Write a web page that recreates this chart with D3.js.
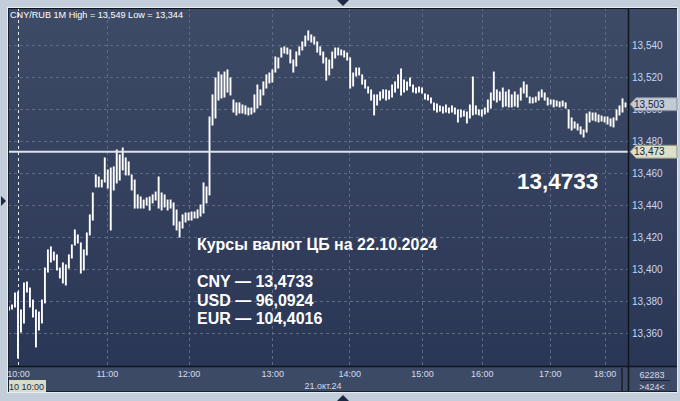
<!DOCTYPE html>
<html><head><meta charset="utf-8">
<script src="https://cdn.jsdelivr.net/npm/d3@7/dist/d3.min.js"></script>
<style>
html,body{margin:0;padding:0;background:#c4cdda;}
svg{display:block;font-family:"Liberation Sans",Arial,sans-serif;}
</style></head>
<body>
<svg id="c" width="680" height="401"></svg>
<script>
// ---- data (1-minute bars, sampled) ----
const highs = [13.3763,13.3775,13.385,13.3856,13.3744,13.3913,13.3919,13.3881,13.3806,13.3744,
13.3731,13.3806,13.4006,13.4119,13.4138,13.4106,13.4088,13.4006,13.4038,13.4025,
13.4088,13.415,13.4244,13.4213,13.4163,13.4119,13.4225,13.4338,13.4475,13.4588,
13.4575,13.4556,13.4694,13.4619,13.4631,13.4638,13.4744,13.4713,13.4756,13.4694,
13.4669,13.4588,13.4556,13.4463,13.445,13.4431,13.4444,13.445,13.4463,13.4481,
13.4575,13.4475,13.4463,13.4431,13.4431,13.4413,13.4369,13.4294,13.4338,13.435,
13.435,13.4356,13.4356,13.4369,13.44,13.4538,13.4513,13.495,13.5088,13.5194,
13.5231,13.5213,13.5231,13.5244,13.5194,13.5056,13.5038,13.5038,13.5025,13.5019,
13.5006,13.5006,13.5088,13.515,13.5119,13.5169,13.5213,13.5225,13.5244,13.5325,
13.5319,13.5381,13.5388,13.5381,13.5369,13.5306,13.5356,13.5388,13.5419,13.5456,
13.5488,13.5463,13.545,13.5419,13.5388,13.5356,13.5319,13.5306,13.5356,13.5381,
13.5381,13.5369,13.5363,13.535,13.5319,13.5225,13.5256,13.5256,13.5213,13.5181,
13.5138,13.5119,13.5088,13.5088,13.5106,13.5119,13.5119,13.5113,13.515,13.5169,
13.5213,13.525,13.5181,13.5169,13.5194,13.515,13.5131,13.5138,13.5131,13.5094,
13.5088,13.5069,13.5038,13.5031,13.5019,13.5013,13.5025,13.5006,13.5019,13.5006,
13.4994,13.4994,13.4988,13.4981,13.5025,13.52,13.5019,13.4994,13.4994,13.5006,
13.5056,13.51,13.5231,13.5119,13.5106,13.5131,13.5106,13.5119,13.5088,13.5106,
13.5088,13.5131,13.5169,13.515,13.5075,13.5069,13.5075,13.5106,13.5119,13.51,
13.5069,13.5056,13.5056,13.505,13.5044,13.505,13.5038,13.4994,13.4944,13.4919,
13.4906,13.4888,13.4869,13.4969,13.4981,13.4975,13.4975,13.4963,13.4956,13.495,
13.495,13.4938,13.4944,13.4994,13.5019,13.5063,13.5038];
const lows = [13.3744,13.375,13.3763,13.3444,13.3606,13.3663,13.3856,13.3763,13.37,13.3513,
13.3619,13.3663,13.3788,13.3981,13.4044,13.4056,13.3994,13.3944,13.3913,13.39,
13.4006,13.4069,13.415,13.4163,13.3975,13.3994,13.4088,13.4213,13.4306,13.4513,
13.4513,13.4513,13.4544,13.4506,13.4244,13.4494,13.4538,13.4556,13.4619,13.4588,
13.4588,13.4494,13.4381,13.4381,13.4381,13.4381,13.44,13.4369,13.4413,13.4431,
13.4381,13.4369,13.4388,13.4369,13.4381,13.4275,13.4244,13.42,13.4256,13.4294,
13.4306,13.4306,13.4319,13.4319,13.4331,13.435,13.4413,13.4463,13.49,13.4944,
13.5056,13.5069,13.5075,13.5106,13.5088,13.4981,13.4963,13.4975,13.4975,13.4969,
13.4963,13.4969,13.4981,13.5006,13.5025,13.5088,13.5131,13.5163,13.5169,13.5231,
13.5256,13.5325,13.535,13.5344,13.5288,13.5231,13.5269,13.5338,13.5369,13.5394,
13.5431,13.5419,13.5406,13.5356,13.5338,13.5288,13.5181,13.5213,13.5256,13.5319,
13.5338,13.5338,13.5325,13.5306,13.5131,13.5144,13.5206,13.5213,13.5156,13.5131,
13.51,13.5056,13.4963,13.5025,13.5056,13.5069,13.5056,13.5063,13.5075,13.5106,
13.5131,13.5088,13.5106,13.5119,13.5144,13.5106,13.51,13.5106,13.51,13.5063,
13.5056,13.5038,13.4994,13.4981,13.4988,13.4975,13.4981,13.4975,13.4981,13.4969,
13.4919,13.495,13.4956,13.4913,13.4944,13.4963,13.4969,13.4963,13.4956,13.4969,
13.4981,13.5006,13.5056,13.5044,13.5056,13.5013,13.5019,13.5013,13.5013,13.5019,
13.5013,13.5056,13.51,13.5075,13.5038,13.5038,13.5044,13.5056,13.5075,13.5056,
13.5025,13.5031,13.5013,13.5019,13.5013,13.5019,13.5006,13.4881,13.4869,13.4881,
13.4869,13.4844,13.4825,13.4856,13.4919,13.4931,13.4925,13.4919,13.4925,13.4919,
13.4906,13.4894,13.4888,13.4931,13.4963,13.4981,13.5013];
const hourIdx = [3, 32.7, 60, 88, 113.7, 138, 158, 180.7, 199];
const hourLabels = ["10:00","11:00","12:00","13:00","14:00","15:00","16:00","17:00","18:00"];
const yTicks = [13.36,13.38,13.40,13.42,13.44,13.46,13.48,13.50,13.52,13.54];
const lastPrice = 13.503;
const cbRate = 13.4733;
const titleText = "CNY/RUB 1M High = 13,549 Low = 13,344";
const noteTitle = "Курсы валют ЦБ на 22.10.2024";
const noteLines = ["CNY — 13,4733","USD — 96,0924","EUR — 104,4016"];
const dateLabel = "21.окт.24";
const cursorLabel = "10 10:00";
const counterTop = "62283", counterBottom = ">424<";

// ---- layout ----
const L=8, T=8, R=677, B=392, PR=628, PB=366;
const svg = d3.select("#c");
const fmt = v => v.toFixed(3).replace(".", ",");

const x = d3.scaleLinear().domain([0, highs.length-1]).range([9, 625.5]);
const y = d3.scaleLinear().domain([13.36, 13.54]).range([333, 45]);

const defs = svg.append("defs");
const g1 = defs.append("linearGradient").attr("id","bg").attr("x1",0).attr("y1",0).attr("x2",0).attr("y2",1);
g1.append("stop").attr("offset","0%").attr("stop-color","#3e4b66");
g1.append("stop").attr("offset","100%").attr("stop-color","#2a3655");
defs.append("clipPath").attr("id","clip").append("rect").attr("x",L).attr("y",T).attr("width",PR-L).attr("height",PB-T);

// outer frame
svg.append("rect").attr("x",0).attr("y",0).attr("width",680).attr("height",401).attr("fill","#c4cdda");
svg.append("rect").attr("x",L-1).attr("y",T-1).attr("width",R-L+2).attr("height",B-T+2).attr("fill","#e6ebf1");
svg.append("rect").attr("x",L).attr("y",T).attr("width",R-L).attr("height",PB-T).attr("fill","url(#bg)");
svg.append("rect").attr("x",L).attr("y",PB).attr("width",R-L).attr("height",B-PB).attr("fill","#3d4a66");
// small triangles
svg.append("path").attr("d","M337,0 L349,0 L343,6 Z").attr("fill","#1e2a44");
svg.append("path").attr("d","M337,401 L349,401 L343,395 Z").attr("fill","#1e2a44");
svg.append("path").attr("d","M1,196 L1,206 L6,201 Z").attr("fill","#1e2a44");

// gridlines
const grid = svg.append("g").attr("clip-path","url(#clip)");
grid.selectAll(".hg").data(yTicks).enter().append("line")
  .attr("x1",L).attr("x2",PR).attr("y1",d=>Math.round(y(d))+0.5).attr("y2",d=>Math.round(y(d))+0.5)
  .attr("stroke","#5d6a86").attr("stroke-dasharray","3,3");
grid.selectAll(".vg").data(hourIdx.slice(1)).enter().append("line")
  .attr("y1",T).attr("y2",PB).attr("x1",d=>Math.round(x(d))+0.5).attr("x2",d=>Math.round(x(d))+0.5)
  .attr("stroke","#5d6a86").attr("stroke-dasharray","3,3");
// cursor line at 10:00
grid.append("line").attr("y1",T).attr("y2",PB).attr("x1",Math.round(x(hourIdx[0]))+0.5).attr("x2",Math.round(x(hourIdx[0]))+0.5)
  .attr("stroke","#e8ecf4").attr("stroke-dasharray","3,3");

// bars
const bars = svg.append("g").attr("clip-path","url(#clip)");
bars.selectAll("line").data(highs.map((h,i)=>({i,h,l:lows[i]}))).enter().append("line")
  .attr("x1",d=>x(d.i)).attr("x2",d=>x(d.i))
  .attr("y1",d=>y(d.h)-0.5).attr("y2",d=>y(d.l)+0.5)
  .attr("stroke","#ffffff").attr("stroke-width",1.9);

// CB rate line
svg.append("line").attr("x1",L).attr("x2",PR).attr("y1",y(cbRate)).attr("y2",y(cbRate))
  .attr("stroke","#dfe3ea").attr("stroke-width",2);

// frame lines
svg.append("line").attr("x1",L).attr("x2",R).attr("y1",T+0.5).attr("y2",T+0.5).attr("stroke","#10141c");
svg.append("line").attr("x1",L).attr("x2",R).attr("y1",PB+0.5).attr("y2",PB+0.5).attr("stroke","#10141c").attr("stroke-width",1.5);
svg.append("line").attr("x1",PR+0.5).attr("x2",PR+0.5).attr("y1",T).attr("y2",B).attr("stroke","#10141c").attr("stroke-width",1.5);
svg.append("line").attr("x1",L+0.5).attr("x2",L+0.5).attr("y1",T).attr("y2",B).attr("stroke","#1a2030");
svg.append("line").attr("x1",L).attr("x2",R).attr("y1",B-0.5).attr("y2",B-0.5).attr("stroke","#1a2030");

// y axis
const ya = svg.append("g").attr("transform",`translate(${PR},0)`)
  .call(d3.axisRight(y).tickValues(yTicks).tickFormat(fmt).tickSize(0).tickPadding(4));
ya.select(".domain").remove();
ya.selectAll("text").attr("fill","#c9d6f0").attr("font-size","10px").attr("font-family","Liberation Sans, Arial, sans-serif");

// x axis
const xa = svg.append("g").attr("transform",`translate(0,${PB})`)
  .call(d3.axisBottom(x).tickValues(hourIdx).tickFormat((d,i)=>hourLabels[i]).tickSize(0).tickPadding(5));
xa.select(".domain").remove();
xa.selectAll("text").attr("fill","#d4dcec").attr("font-size","9px").attr("font-family","Liberation Sans, Arial, sans-serif");

svg.append("text").attr("x",323).attr("y",389).attr("text-anchor","middle").attr("fill","#d4dcec")
  .attr("font-size","9px").text(dateLabel);
// cursor label
svg.append("rect").attr("x",L+1).attr("y",380).attr("width",37).attr("height",12).attr("fill","#d9dcc6");
svg.append("text").attr("x",L+1).attr("y",389.5).attr("fill","#1c2c50").attr("font-size","9px").text(cursorLabel);
// scroll marker
svg.append("rect").attr("x",621).attr("y",368).attr("width",2).attr("height",23).attr("fill","#232a3a");
// counters
svg.append("text").attr("x",652).attr("y",378).attr("text-anchor","middle").attr("fill","#d4dcec").attr("font-size","9px").text(counterTop);
svg.append("line").attr("x1",640).attr("x2",670).attr("y1",380.5).attr("y2",380.5).attr("stroke","#20263a");
svg.append("text").attr("x",652).attr("y",390).attr("text-anchor","middle").attr("fill","#d4dcec").attr("font-size","9px").text(counterBottom);

// price tags
function tag(v, fill, stroke){
  const yy = y(v);
  const gg = svg.append("g");
  gg.append("path").attr("d",`M630,${yy} L636,${yy-6.5} L677,${yy-6.5} L677,${yy+6.5} L636,${yy+6.5} Z`)
    .attr("fill",fill).attr("stroke",stroke);
  gg.append("text").attr("x",634).attr("y",yy+3.5).attr("fill","#15223c").attr("font-size","10px").text(fmt(v));
}
tag(lastPrice, "#c3cad6", "#7f8a9c");
tag(cbRate, "#dcdfc9", "#8a8f7a");

// title
svg.append("text").attr("x",10).attr("y",18).attr("fill","#ffffff").attr("font-size","9.5px")
  .attr("textLength",173).attr("lengthAdjust","spacingAndGlyphs").text(titleText);

// big rate
svg.append("text").attr("x",517).attr("y",189).attr("fill","#ffffff").attr("font-size","22.5px").attr("font-weight","bold")
  .text(cbRate.toFixed(4).replace(".",","));

// note block
svg.append("text").attr("x",197).attr("y",250).attr("fill","#ffffff").attr("font-size","16px").attr("font-weight","bold").text(noteTitle);
noteLines.forEach((t,i)=>{
  svg.append("text").attr("x",197).attr("y",287+i*18.5).attr("fill","#ffffff").attr("font-size","16px").attr("font-weight","bold").text(t);
});
</script>
</body></html>
